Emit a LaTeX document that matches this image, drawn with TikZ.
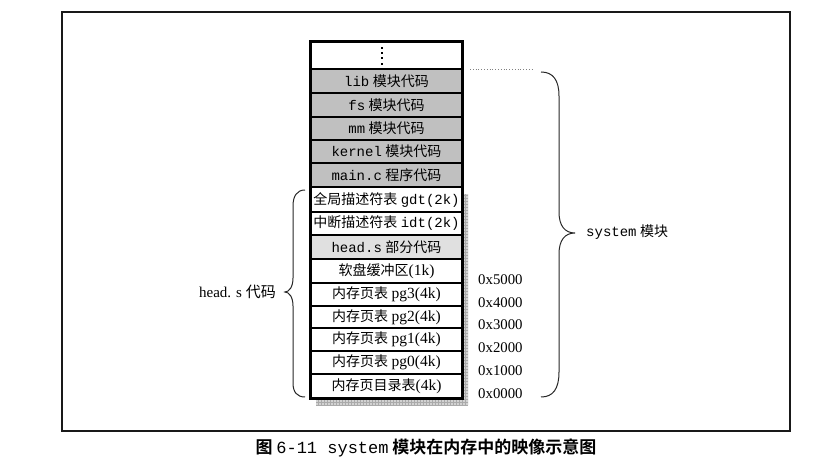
\documentclass[tikz,border=0pt]{standalone}
\usepackage{fontspec}
\setmainfont{Liberation Serif}
\newfontfamily\zhfont{Noto Sans CJK SC}
\newfontfamily\zhbfont{Noto Sans CJK SC Bold}
\newfontfamily\mnfont{Liberation Mono}
\newcommand{\zhtxt}[1]{{\zhfont #1}}
\newcommand{\mntxt}[1]{{\mnfont #1}}
\newcommand{\srtxt}[1]{{\fontsize{15.5}{15.5}\selectfont #1}}
\definecolor{boxgray}{RGB}{192,192,192}
\definecolor{lightgray2}{RGB}{224,224,224}
\definecolor{shadowfill}{RGB}{210,210,210}
\definecolor{shadowline}{RGB}{170,170,170}
\tikzset{
  rowbox/.style={draw=black, line width=1.1pt, minimum width=151pt, inner sep=0pt, fill=white,
    font=\fontsize{14}{14}\selectfont},
  graybox/.style={fill=boxgray},
  lgraybox/.style={fill=lightgray2},
  brace/.style={draw=black!85, line width=1pt},
  lbl/.style={font=\fontsize{14}{14}\selectfont, inner sep=0pt},
}
\newcommand{\rowbox}[5]{\node[rowbox,#4,minimum height={#3-#2}] (#1) at (386.5,{(#2+#3)/2}) {#5};}
\begin{document}
\begin{tikzpicture}[x=1pt,y=-1pt]
\useasboundingbox (0,0) rectangle (833,465);
% frame
\draw[line width=2pt, black!90] (62,12) rectangle (790,431);
% shadow
\fill[shadowfill] (316,194) rectangle (468,405);
\begin{scope}
\clip (316,194) rectangle (468,405);
\draw[shadowline, line width=0.35pt] (316,194) grid[step=3pt] (468,405);
\end{scope}
% rows
\rowbox{r0}{42}{69}{}{}
\rowbox{r1}{69}{93}{graybox}{\mntxt{lib} \zhtxt{模块代码}}
\rowbox{r2}{93}{117}{graybox}{\mntxt{fs} \zhtxt{模块代码}}
\rowbox{r3}{117}{140}{graybox}{\mntxt{mm} \zhtxt{模块代码}}
\rowbox{r4}{140}{163}{graybox}{\mntxt{kernel} \zhtxt{模块代码}}
\rowbox{r5}{163}{187}{graybox}{\mntxt{main.c} \zhtxt{程序代码}}
\rowbox{r6}{187}{212}{}{\zhtxt{全局描述符表} \mntxt{gdt(2k)}}
\rowbox{r7}{212}{235}{}{\zhtxt{中断描述符表} \mntxt{idt(2k)}}
\rowbox{r8}{235}{259}{lgraybox}{\mntxt{head.s} \zhtxt{部分代码}}
\rowbox{r9}{259}{283}{}{\zhtxt{软盘缓冲区}\srtxt{(1k)}}
\rowbox{r10}{283}{306}{}{\zhtxt{内存页表} \srtxt{pg3(4k)}}
\rowbox{r11}{306}{328}{}{\zhtxt{内存页表} \srtxt{pg2(4k)}}
\rowbox{r12}{328}{351}{}{\zhtxt{内存页表} \srtxt{pg1(4k)}}
\rowbox{r13}{351}{374}{}{\zhtxt{内存页表} \srtxt{pg0(4k)}}
\rowbox{r14}{374}{398}{}{\zhtxt{内存页目录表}\srtxt{(4k)}}
\draw[line width=2pt] (r0.north west) rectangle (r14.south east);
% vertical dots
\foreach \yy in {46.7,52,57.3,62.7} \fill (380.7,\yy) rectangle ++(2.2,2.2);
% hex labels
\foreach \t/\yy in {0x5000/280,0x4000/303,0x3000/325,0x2000/348,0x1000/371,0x0000/394}
  \node[lbl, font=\fontsize{14.8}{14.8}\selectfont, anchor=west] at (478,\yy) {\t};
% dotted line and right brace
\coordinate (dl) at (470,69.5);
\coordinate (bt) at (541,72);
\coordinate (bb) at (541,397);
\coordinate (btip) at (575,233);
\draw[gray, dotted, line width=0.8pt] (dl) -- (532,69.5);
\draw[brace] (bt) .. controls (553,72) and (559,80) .. (559,96) -- (559,212)
  .. controls (559,226) and (565,233) .. (btip)
  .. controls (565,233) and (559,240) .. (559,254) -- (559,372)
  .. controls (559,389) and (553,397) .. (bb);
\node[lbl, anchor=west] (sys) at (586,232) {\mntxt{system} \zhtxt{模块}};
% left brace
\coordinate (lt) at (305,190);
\coordinate (lb) at (305,397);
\coordinate (ltip) at (285,292);
\draw[brace] (lt) .. controls (297,190) and (293,196) .. (293,206) -- (293,278)
  .. controls (293,287) and (289,292) .. (ltip)
  .. controls (289,292) and (293,297) .. (293,306) -- (293,383)
  .. controls (293,392) and (297,397) .. (lb);
\node[lbl, font=\fontsize{15}{15}\selectfont, anchor=east] (hs) at (276,292) {head. s \zhtxt{代码}};
% caption
\node[lbl, font=\fontsize{17}{17}\selectfont] (cap) at (426,448) {\zhbfont 图 \mntxt{6-11 system} 模块在内存中的映像示意图};
\end{tikzpicture}
\end{document}
